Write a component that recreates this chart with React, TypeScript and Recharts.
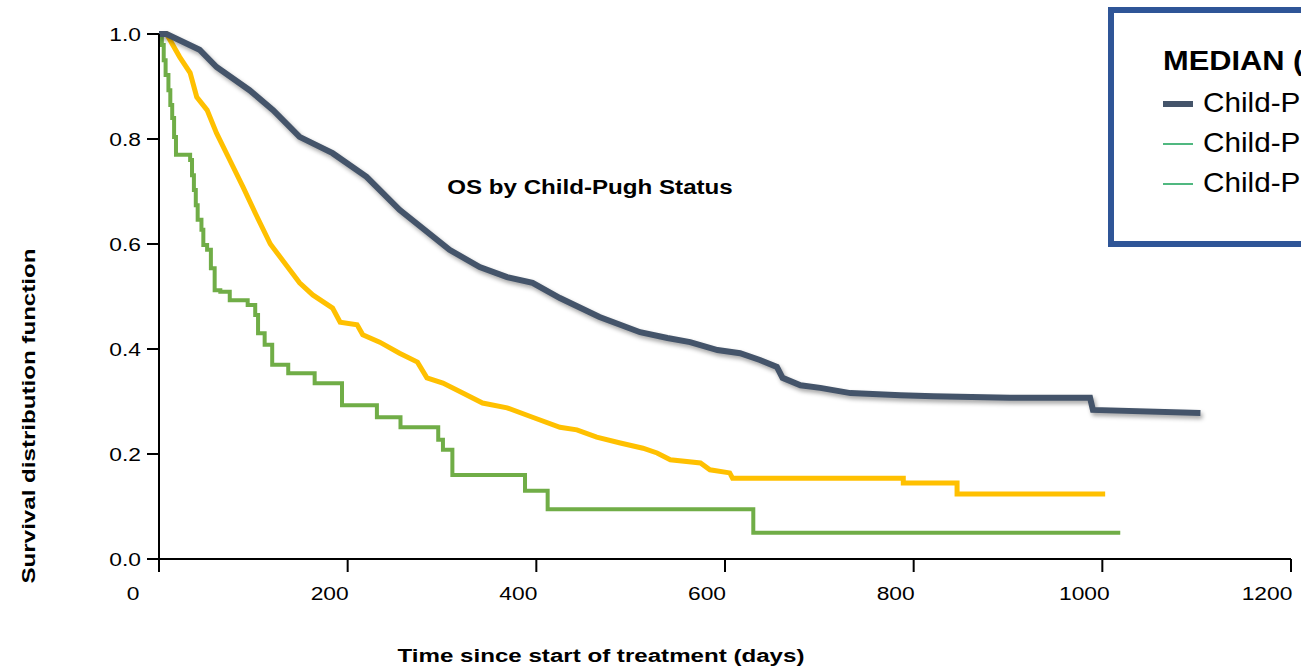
import React from "react";
import { LineChart, Line, XAxis, YAxis, Legend, Label } from "recharts";

const FONT = "'Liberation Sans', Arial, sans-serif";

const xTicks = [0, 200, 400, 600, 800, 1000, 1200];
const yTicks = [0, 0.2, 0.4, 0.6, 0.8, 1.0];

// Child-Pugh A (dark navy)
const navyDays = [0, 8, 43, 61, 96, 121, 149, 184, 220, 255, 308, 340, 369, 396, 425, 467, 510, 539, 563, 592, 616, 637, 655, 661, 680, 701, 733, 786, 821, 902, 987, 990, 1104];
const navySurv = [1.0, 1.0, 0.97, 0.937, 0.893, 0.855, 0.804, 0.773, 0.728, 0.665, 0.589, 0.556, 0.537, 0.526, 0.497, 0.461, 0.432, 0.421, 0.413, 0.398, 0.392, 0.379, 0.366, 0.345, 0.331, 0.326, 0.316, 0.312, 0.31, 0.307, 0.307, 0.284, 0.278];

// Child-Pugh B (yellow)
const yellowDays = [0, 8, 22, 33, 40, 51, 61, 75, 89, 102, 118, 134, 149, 163, 184, 192, 210, 216, 234, 255, 274, 284, 301, 322, 343, 369, 396, 425, 443, 464, 489, 513, 528, 542, 574, 584, 605, 608, 789, 789, 846, 846, 1003];
const yellowSurv = [1.0, 1.0, 0.956, 0.926, 0.88, 0.855, 0.811, 0.76, 0.709, 0.659, 0.6, 0.562, 0.526, 0.503, 0.478, 0.451, 0.446, 0.427, 0.413, 0.392, 0.375, 0.345, 0.335, 0.316, 0.297, 0.288, 0.27, 0.251, 0.246, 0.232, 0.221, 0.211, 0.202, 0.189, 0.183, 0.17, 0.164, 0.154, 0.154, 0.145, 0.145, 0.124, 0.124];

// Child-Pugh C (green)
const greenDays = [0, 3, 5, 7, 10, 12, 14, 16, 18, 33, 35, 37, 39, 41, 45, 47, 51, 55, 59, 65, 75, 94, 102, 105, 112, 120, 137, 165, 194, 231, 256, 296, 301, 311, 388, 412, 630, 1019];
const greenSurv = [1.0, 0.979, 0.95, 0.922, 0.893, 0.865, 0.84, 0.804, 0.77, 0.76, 0.731, 0.703, 0.674, 0.646, 0.627, 0.598, 0.589, 0.554, 0.512, 0.509, 0.493, 0.484, 0.465, 0.43, 0.408, 0.37, 0.354, 0.335, 0.293, 0.27, 0.251, 0.227, 0.208, 0.16, 0.13, 0.095, 0.05, 0.05];

const legendTitle = "MEDIAN (days)";
const legendLabels = ["Child-Pugh A", "Child-Pugh B", "Child-Pugh C"];
const legendColors = ["#44546a", "#50b880", "#50b880"];
const legendWidths = [6, 2, 2];

const zip = (days: number[], surv: number[]) => days.map((t, i) => ({ t, s: surv[i] }));

const navyData = zip(navyDays, navySurv);
const yellowData = zip(yellowDays, yellowSurv);
const greenData = zip(greenDays, greenSurv);

const Stretch = ({ x, y, k = 1.2, size = 19, bold = false, anchor = "start", rotate = 0, children }: any) => (
  <text
    transform={`translate(${x},${y})${rotate ? ` rotate(${rotate})` : ""} scale(${k},1)`}
    textAnchor={anchor}
    fontSize={size}
    fontWeight={bold ? "bold" : "normal"}
    fontFamily={FONT}
    fill="#000"
  >
    {children}
  </text>
);

const YTick = ({ x, y, payload }: any) => (
  <Stretch x={x - 4} y={y + 7} anchor="end">
    {Number(payload.value).toFixed(1)}
  </Stretch>
);

const XTick = ({ x, y, payload }: any) => (
  <Stretch x={x + (payload.value === 0 ? -26 : -18)} y={y + 26} anchor="middle">
    {payload.value}
  </Stretch>
);

const LegendBox = () => (
  <svg width={330} height={240} style={{ display: "block" }}>
    <rect x={3} y={3} width={324} height={234} fill="#fff" stroke="#2f5597" strokeWidth={6} />
    <Stretch x={55} y={63} k={1.1} size={28} bold>
      {legendTitle}
    </Stretch>
    {legendLabels.map((label, i) => (
      <g key={label}>
        <line x1={55} x2={85} y1={97 + i * 40} y2={97 + i * 40} stroke={legendColors[i]} strokeWidth={legendWidths[i]} />
        <Stretch x={95} y={105 + i * 40} k={1.1} size={27}>
          {label}
        </Stretch>
      </g>
    ))}
  </svg>
);

export default function App() {
  return (
    <div style={{ position: "absolute", left: 0, top: 0, width: 1301, height: 666, overflow: "hidden", background: "#fff" }}>
      <style>{`.navy-line path { filter: drop-shadow(2px 3px 2px rgba(0,0,0,0.35)); }`}</style>
      <LineChart width={1301} height={666} margin={{ top: 34, right: 10, left: 0, bottom: 0 }}>
        <XAxis
          type="number"
          dataKey="t"
          domain={[0, 1200]}
          ticks={xTicks}
          height={107}
          tickSize={13}
          stroke="#000"
          strokeWidth={2}
          tick={(p: any) => <XTick {...p} />}
        >
          <Label
            content={() => (
              <Stretch x={601} y={662} k={1.27} size={19} bold anchor="middle">
                Time since start of treatment (days)
              </Stretch>
            )}
          />
        </XAxis>
        <YAxis
          type="number"
          domain={[0, 1]}
          ticks={yTicks}
          width={159}
          tickSize={12}
          stroke="#000"
          strokeWidth={2}
          tick={(p: any) => <YTick {...p} />}
        >
          <Label
            content={() => (
              <Stretch x={35} y={416} k={1.27} size={19} bold anchor="middle" rotate={-90}>
                Survival distribution function
              </Stretch>
            )}
          />
        </YAxis>
        <Line data={greenData} dataKey="s" type="stepAfter" stroke="#70ad47" strokeWidth={4} dot={false} isAnimationActive={false} />
        <Line data={yellowData} dataKey="s" type="linear" stroke="#ffc000" strokeWidth={5} dot={false} isAnimationActive={false} />
        <Line data={navyData} dataKey="s" type="linear" className="navy-line" stroke="#44546a" strokeWidth={6} dot={false} isAnimationActive={false} />
        <text
          transform="translate(590,194) scale(1.15,1)"
          textAnchor="middle"
          fontSize={21}
          fontWeight="bold"
          fontFamily={FONT}
          fill="#000"
        >
          OS by Child-Pugh Status
        </text>
        <Legend
          layout="vertical"
          align="center"
          verticalAlign="middle"
          wrapperStyle={{ position: "absolute", left: 1108, top: 7, width: 330, height: 240 }}
          content={() => <LegendBox />}
        />
      </LineChart>
    </div>
  );
}
